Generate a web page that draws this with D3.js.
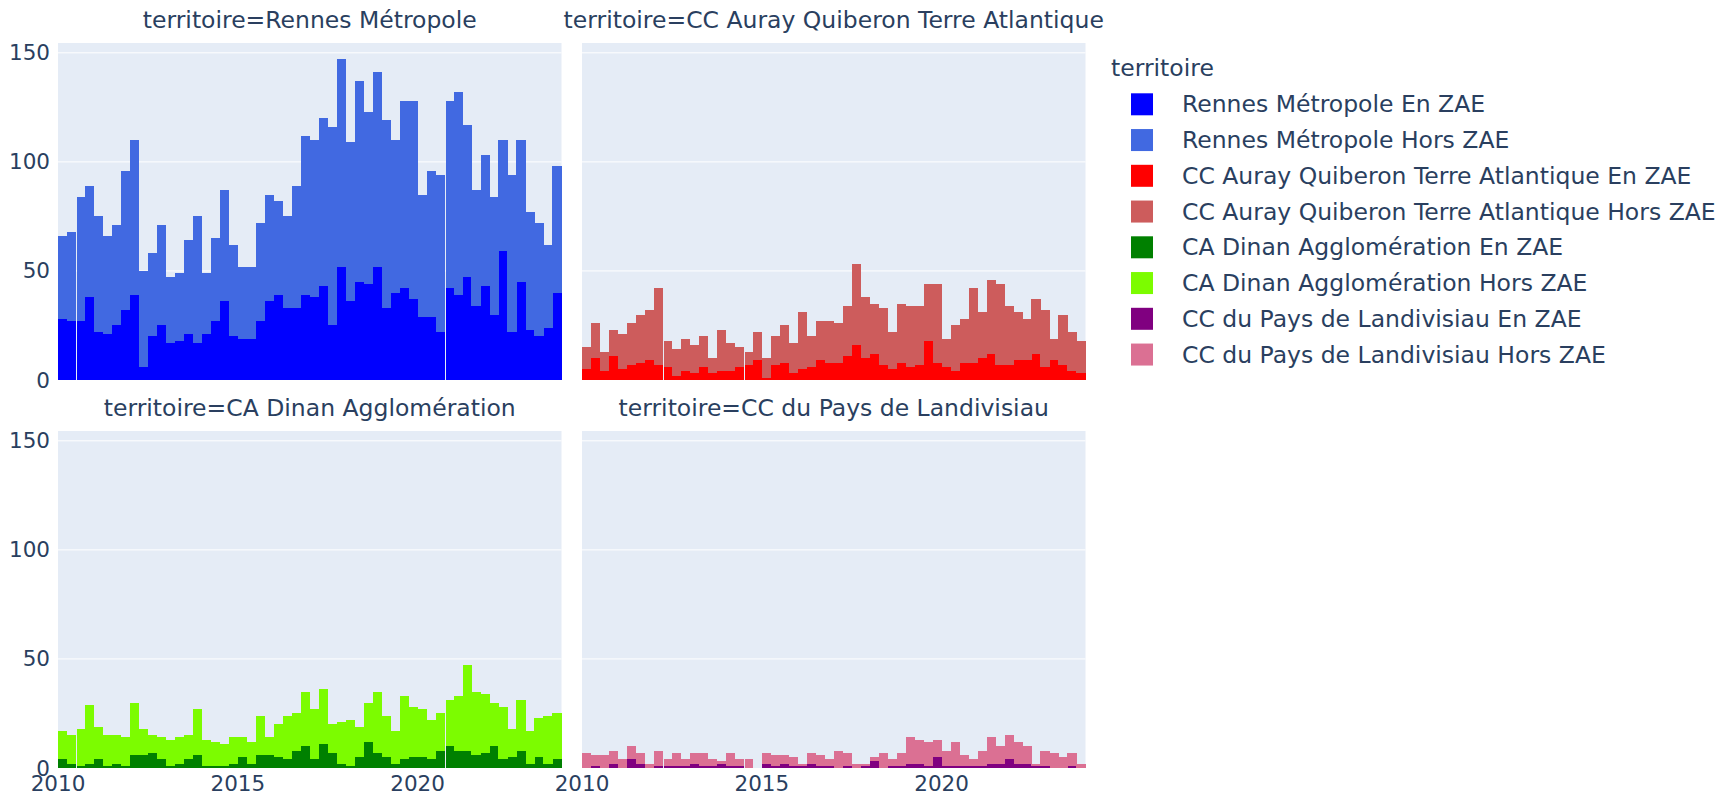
<!DOCTYPE html>
<html>
<head>
<meta charset="utf-8">
<script src="https://cdn.jsdelivr.net/npm/d3@7/dist/d3.min.js"></script>
<style>
  html, body { margin: 0; padding: 0; background: #ffffff; }
  svg text { font-family: "DejaVu Sans", Verdana, sans-serif; fill: #2a3f5f; }
</style>
</head>
<body>
<svg id="chart" width="1721" height="795"></svg>
<script>
// Quarterly counts, 2010 Q1 .. 2023 Q4 (56 quarters), per territory and ZAE status
const startYear = 2010;
const endYear = 2024;

const rennesEn   = [28,27,27,38,22,21,25,32,39,6, 20,25,17,18,21,17,21,27,36,20, 19,19,27,36,39,33,33,39,38,43, 25,52,36,45,44,52,33,40,42,37, 29,29,22,42,39,47,34,43,30,59, 22,45,23,20,24,40];
const rennesHors = [38,41,57,51,53,45,46,64,71,44, 38,46,30,31,43,58,28,38,51,42, 33,33,45,49,43,42,56,73,72,77, 91,95,73,92,79,89,86,70,86,91, 56,67,72,86,93,70,53,60,54,51, 72,65,54,52,38,58];

const aurayEn   = [5,10,4,11,5,7,8,9,7,6, 2,4,3,6,3,4,4,6,7,9, 1,7,8,3,5,6,9,8,8,11, 16,10,12,7,5,8,6,7,18,8, 6,4,8,8,10,12,7,7,9,9, 12,6,9,7,4,3];
const aurayHors = [10,16,9,12,16,19,22,23,35,12, 12,15,13,14,7,19,13,9,6,13, 9,13,17,14,26,14,18,19,18,23, 37,28,23,26,17,27,28,27,26,36, 13,21,20,34,21,34,37,27,22,19, 25,26,10,23,18,15];

const dinanEn   = [4,2,1,2,4,1,2,1,6,6, 7,4,1,2,4,6,1,1,1,2, 5,2,6,6,5,4,8,10,4,11, 7,2,1,5,12,7,5,2,4,5, 5,4,8,10,8,8,6,7,10,4, 5,8,2,5,2,4];
const dinanHors = [13,13,17,27,15,14,13,13,24,12, 8,10,12,12,11,21,12,11,10,12, 9,10,18,8,15,20,17,25,23,25, 13,19,21,14,18,28,19,15,29,23, 22,18,17,21,25,39,29,27,20,24, 13,23,15,18,22,21];

const landiEn   = [0,1,0,2,0,4,2,0,1,1, 1,1,2,1,1,2,1,1,0,0, 2,1,2,1,1,2,1,1,0,1, 0,1,3,0,1,1,2,2,1,5, 1,1,1,1,1,2,2,4,2,2, 1,1,0,0,1,0];
const landiHors = [7,5,6,6,4,6,5,2,7,3, 6,3,5,6,3,1,6,3,4,0, 5,5,4,4,1,5,5,3,8,6, 2,1,2,7,3,6,12,11,11,8, 7,11,5,3,7,12,8,11,10,8, 1,7,7,5,6,2];

const territories = ["Rennes Métropole", "CC Auray Quiberon Terre Atlantique", "CA Dinan Agglomération", "CC du Pays de Landivisiau"];
const statuses = ["En ZAE", "Hors ZAE"];
const seriesValues = [
  [rennesEn, rennesHors],
  [aurayEn, aurayHors],
  [dinanEn, dinanHors],
  [landiEn, landiHors]
];
const seriesColors = [
  ["#0000ff", "#4169e1"],
  ["#ff0000", "#cd5c5c"],
  ["#008000", "#7cfc00"],
  ["#800080", "#db7093"]
];
// quarter boundaries where adjacent bins leave a thin seam, per facet column
const seamsByColumn = [[2, 43], [9, 18]];

const yTicks = [0, 50, 100, 150];
const xTickYears = [2010, 2015, 2020];

// ---- layout ----
const svg = d3.select("#chart");
const colX = [[58, 561.5], [582, 1085.5]];
const rowY = [[43, 380], [431, 768]];
const yMax = 154.5;
const fontSize = 23.5;
const tickFont = 21.5;

svg.append("rect").attr("width", 1721).attr("height", 795).attr("fill", "#ffffff");

const quarterStart = i => new Date(startYear + Math.floor(i / 4), (i % 4) * 3, 1);

territories.forEach((name, t) => {
  const col = t % 2, row = Math.floor(t / 2);
  const [x0, x1] = colX[col];
  const [y0, y1] = rowY[row];

  const x = d3.scaleTime()
    .domain([new Date(startYear, 0, 1), new Date(endYear, 0, 1)])
    .range([x0, x1]);
  const y = d3.scaleLinear().domain([0, yMax]).range([y1, y0]);

  const g = svg.append("g");
  g.append("rect")
    .attr("x", x0).attr("y", y0)
    .attr("width", x1 - x0).attr("height", y1 - y0)
    .attr("fill", "#e5ecf6");

  // horizontal grid
  g.selectAll("line.grid").data(yTicks.filter(v => v > 0)).join("line")
    .attr("x1", x0).attr("x2", x1)
    .attr("y1", d => y(d)).attr("y2", d => y(d))
    .attr("stroke", "#ffffff").attr("stroke-width", 1);

  // stacked bars: En ZAE at the bottom, Hors ZAE on top
  const stackData = seriesValues[t][0].map((v, i) => ({ i, en: v, hors: seriesValues[t][1][i] }));
  const stacked = d3.stack().keys(["en", "hors"])(stackData);
  const seams = seamsByColumn[col];

  stacked.forEach((layer, k) => {
    g.append("g")
      .selectAll("rect")
      .data(layer)
      .join("rect")
      .attr("x", d => {
        const left = x(quarterStart(d.data.i));
        return seams.includes(d.data.i) ? left + 1.6 : left;
      })
      .attr("width", d => {
        const left = x(quarterStart(d.data.i));
        const right = x(quarterStart(d.data.i + 1));
        return (right - left) - (seams.includes(d.data.i) ? 1.6 : 0) + 0.4;
      })
      .attr("y", d => y(d[1]))
      .attr("height", d => Math.max(0, y(d[0]) - y(d[1])))
      .attr("fill", seriesColors[t][k])
      .attr("shape-rendering", "crispEdges");
  });

  // facet title
  svg.append("text")
    .attr("x", (x0 + x1) / 2)
    .attr("y", y0 - 23)
    .attr("text-anchor", "middle")
    .attr("dominant-baseline", "central")
    .attr("font-size", fontSize)
    .text("territoire=" + name);

  // y tick labels on first column
  if (col === 0) {
    svg.append("g").selectAll("text").data(yTicks).join("text")
      .attr("x", x0 - 8)
      .attr("y", d => y(d))
      .attr("text-anchor", "end")
      .attr("dominant-baseline", "central")
      .attr("font-size", tickFont)
      .text(d => d);
  }

  // x tick labels on bottom row
  if (row === 1) {
    svg.append("g").selectAll("text").data(xTickYears).join("text")
      .attr("x", d => x(new Date(d, 0, 1)))
      .attr("y", y1 + 15)
      .attr("text-anchor", "middle")
      .attr("dominant-baseline", "central")
      .attr("font-size", tickFont)
      .text(d => d);
  }
});

// ---- legend ----
const legend = svg.append("g");
legend.append("text")
  .attr("x", 1111).attr("y", 68)
  .attr("dominant-baseline", "central")
  .attr("font-size", fontSize)
  .text("territoire");

const legendItems = [];
territories.forEach((name, t) => statuses.forEach((s, k) => legendItems.push({ label: name + " " + s, color: seriesColors[t][k] })));

const item = legend.selectAll("g.item").data(legendItems).join("g")
  .attr("transform", (d, i) => `translate(0, ${104.3 + i * 35.75})`);
item.append("rect")
  .attr("x", 1131).attr("y", -11)
  .attr("width", 22).attr("height", 22)
  .attr("fill", d => d.color);
item.append("text")
  .attr("x", 1182).attr("y", 0)
  .attr("dominant-baseline", "central")
  .attr("font-size", fontSize)
  .text(d => d.label);
</script>
</body>
</html>
